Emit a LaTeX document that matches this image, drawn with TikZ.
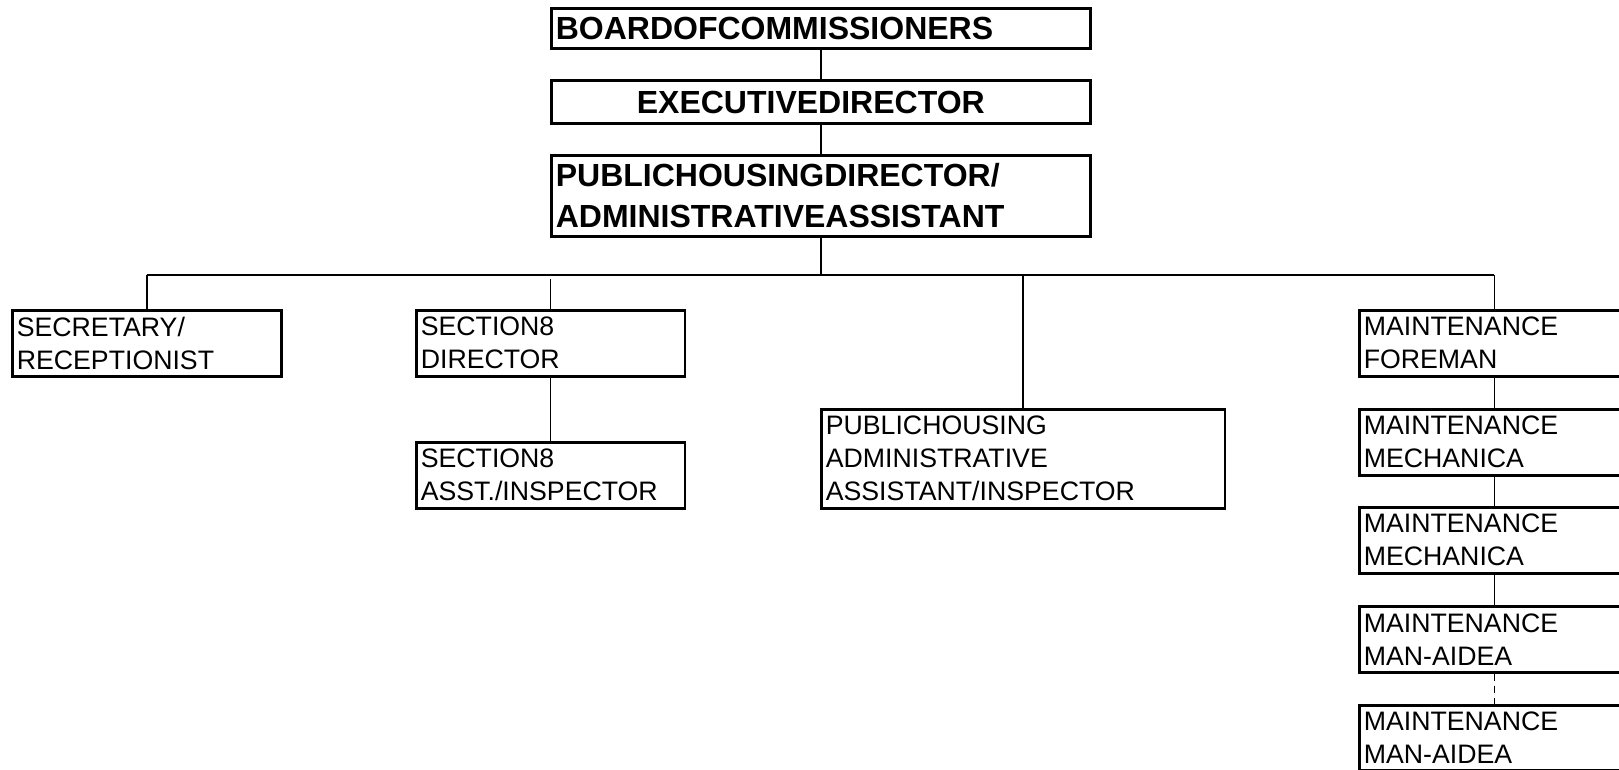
\documentclass[tikz,border=0pt]{standalone}
\usepackage{fontspec}
\setmainfont{Liberation Sans}
\tikzset{
  x=1pt, y=-1pt,
  box/.style={draw, line width=2.6pt, anchor=north west, inner xsep=4.5pt, inner ysep=0pt, align=left},
  bigbox/.style={box, font=\bfseries\fontsize{32}{41}\selectfont},
  smallbox/.style={box, font=\fontsize{26.7}{33}\selectfont, text width=#1-9pt, minimum width=#1},
  link/.style={line width=1.4pt},
}
\begin{document}
\begin{tikzpicture}
\useasboundingbox (0,0) rectangle (1619,770);
% top chain
\node[bigbox, text width=530pt, minimum height=40.5pt] (board) at (550,7) {BOARDOFCOMMISSIONERS};
\node[bigbox, text width=530pt, minimum height=42.5pt, align=center] (exec) at (550,79.5) {EXECUTIVEDIRECTOR\hspace*{20pt}\null};
\node[bigbox, text width=530pt, minimum height=81pt] (phd) at (550,154) {PUBLICHOUSINGDIRECTOR/\\ADMINISTRATIVEASSISTANT};
% second level
\node[smallbox=269pt, minimum height=66pt] (sec) at (11,309) {SECRETARY/\\RECEPTIONIST};
\node[smallbox=268.5pt, minimum height=66pt] (s8d) at (415,309) {SECTION8\\DIRECTOR};
\node[smallbox=268.5pt, minimum height=66pt] (s8a) at (415,441) {SECTION8\\ASST./INSPECTOR};
\node[smallbox=403.5pt, minimum height=99pt] (pha) at (820,408) {PUBLICHOUSING\\ADMINISTRATIVE\\ASSISTANT/INSPECTOR};
\node[smallbox=270pt, minimum height=66pt] (mf) at (1358,309) {MAINTENANCE\\FOREMAN};
\node[smallbox=270pt, minimum height=66pt] (mm1) at (1358,408) {MAINTENANCE\\MECHANICA};
\node[smallbox=270pt, minimum height=66pt] (mm2) at (1358,506) {MAINTENANCE\\MECHANICA};
\node[smallbox=270pt, minimum height=66pt] (ma1) at (1358,605) {MAINTENANCE\\MAN-AIDEA};
\node[smallbox=270pt, minimum height=65pt] (ma2) at (1358,704) {MAINTENANCE\\MAN-AIDEA};
% connectors
\coordinate (bus) at (0,275);
\draw[link] (board.south) -- (exec.north);
\draw[link] (exec.south) -- (phd.north);
\draw[link] (phd.south) -- (phd.south |- bus);
\draw[link] (sec.north |- bus) -- (mf.north |- bus);
\draw[link] (sec.north |- bus) -- (sec.north);
\draw[link] ([yshift=-4pt]s8d.north |- bus) -- (s8d.north);
\draw[link] (pha.north |- bus) -- (pha.north);
\draw[link] (mf.north |- bus) -- (mf.north);
\draw[link] (s8d.south) -- (s8a.north);
\draw[link] (mf.south) -- (mm1.north);
\draw[link] (mm1.south) -- (mm2.north);
\draw[link] (mm2.south) -- (ma1.north);
\draw[link, dash pattern=on 7pt off 5pt] (ma1.south) -- (ma2.north);
\end{tikzpicture}
\end{document}
